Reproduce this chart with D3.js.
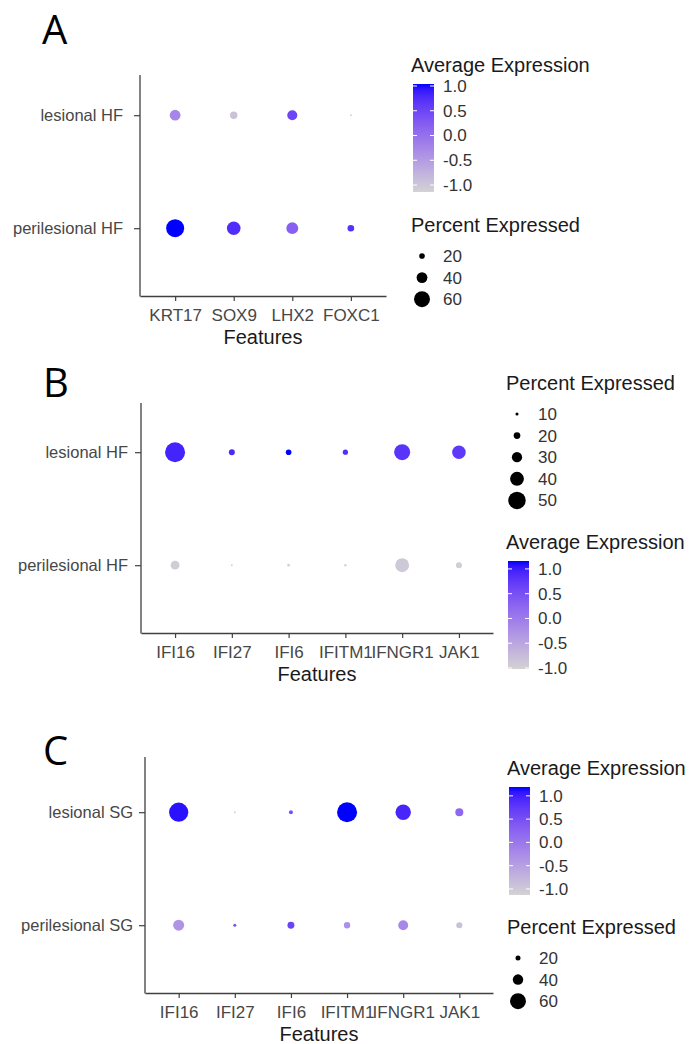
<!DOCTYPE html>
<html>
<head>
<meta charset="utf-8">
<script src="https://cdn.jsdelivr.net/npm/d3@7"></script>
<style>
	body { margin: 0; background: #fff; }
	text { font-family: "Liberation Sans", Arial, sans-serif; }
</style>
</head>
<body>
<script>
// panel A
var featuresA = ["KRT17", "SOX9", "LHX2", "FOXC1"]
var groupsA = ["lesional HF", "perilesional HF"]
var pctA_les = [40, 27, 37, 6]
var pctA_peri = [68, 51, 44, 24]
var avgA_les = [-0.25, -0.95, 0.5, -1.14]
var avgA_peri = [1.04, 0.75, 0.2, 0.7]
var sizeBreaksA = [20, 40, 60]

// panel B
var featuresB = ["IFI16", "IFI27", "IFI6", "IFITM1", "IFNGR1", "JAK1"]
var groupsB = ["lesional HF", "perilesional HF"]
var pctB_les = [57, 18, 17, 16, 46, 39]
var pctB_peri = [26, 7, 9, 8, 40, 18]
var avgB_les = [0.95, 0.9, 1.16, 0.85, 0.8, 0.75]
var avgB_peri = [-0.95, -1.0, -1.02, -1.0, -0.9, -0.95]
var sizeBreaksB = [10, 20, 30, 40, 50]

// panel C
var featuresC = ["IFI16", "IFI27", "IFI6", "IFITM1", "IFNGR1", "JAK1"]
var groupsC = ["lesional SG", "perilesional SG"]
var pctC_les = [72, 9, 16, 75, 58, 31]
var pctC_peri = [42, 13, 27, 25, 38, 24]
var avgC_les = [1.1, -1.13, 0.5, 1.19, 0.95, 0.2]
var avgC_peri = [-0.35, 0.45, 0.65, -0.3, -0.2, -0.9]
var sizeBreaksC = [20, 40, 60]

var colorBreaks = [-1.0, -0.5, 0.0, 0.5, 1.0]

var svg = d3.select("body").append("svg")
	.attr("width", 689)
	.attr("height", 1044)

var defs = svg.append("defs")

function drawPanel(p) {
	var g = svg.append("g")

	//letra del panel
	g.append("text")
		.text(p.letter)
		.attr("x", p.letterX)
		.attr("y", p.letterY)
		.style("font-family", "'Open Sans', sans-serif")
		.style("font-size", "40px")
		.attr("fill", "#000")

	var x = d3.scalePoint().domain(p.features).range([p.left, p.right]).padding(0.6)
	// el grupo de abajo primero (como ggplot)
	var y = d3.scalePoint()
		.domain(p.groups.slice().reverse())
		.range([p.bottom, p.bottom - p.rowStep * 2.2])
		.padding(0.6)

	var vals = p.pct[0].concat(p.pct[1])
	var avgs = p.avg[0].concat(p.avg[1])

	var r = d3.scaleLinear().domain(d3.extent(vals)).range([1, p.rmax])
	var color = d3.scaleLinear()
		.domain(d3.extent(avgs))
		.range(["lightgrey", "blue"])
		.interpolate(d3.interpolateLab)

	//ejes
	var xAxis = g.append("g")
		.attr("transform", "translate(0," + p.bottom + ")")
		.call(d3.axisBottom(x).tickSize(5).tickSizeOuter(0))
	xAxis.select(".domain").attr("stroke", "#404040").attr("stroke-width", 1.3)
	xAxis.selectAll(".tick line").attr("stroke", "#404040").attr("stroke-width", 1.2)
	xAxis.selectAll(".tick text")
		.attr("y", 19)
		.attr("dy", "0.35em")
		.style("font-size", "17px")
		.attr("fill", "#474747")

	var yAxis = g.append("g")
		.attr("transform", "translate(" + p.left + ",0)")
		.call(d3.axisLeft(y).tickSize(6).tickSizeOuter(0))
	yAxis.select(".domain").remove()
	yAxis.selectAll(".tick line").attr("stroke", "#404040").attr("stroke-width", 1.2)
	yAxis.selectAll(".tick text")
		.attr("x", -p.labelGap)
		.attr("dy", "0.35em")
		.style("font-size", "16.5px")
		.attr("fill", "#474747")

	g.append("line")
		.attr("x1", p.left).attr("x2", p.left)
		.attr("y1", p.top).attr("y2", p.bottom + 0.6)
		.attr("stroke", "#404040")
		.attr("stroke-width", 1.3)

	g.append("text")
		.text("Features")
		.attr("x", (p.left + p.right) / 2)
		.attr("y", p.bottom + 41)
		.attr("dy", "0.35em")
		.attr("text-anchor", "middle")
		.style("font-size", "20px")
		.attr("fill", "#1a1a1a")

	//los puntos
	p.groups.forEach(function(grp, gi) {
		g.selectAll(null)
			.data(p.features)
			.enter()
			.append("circle")
			.attr("cx", function(d) { return x(d) })
			.attr("cy", y(grp))
			.attr("r", function(d, i) { return r(p.pct[gi][i]) })
			.attr("fill", function(d, i) { return color(p.avg[gi][i]) })
	})

	//leyendas
	p.legendOrder.forEach(function(kind, k) {
		if (kind == "avg") colorLegend(g, p, color, p.legendY[k])
		else sizeLegend(g, p, r, p.legendY[k])
	})
}

function colorLegend(g, p, color, ty) {
	var lx = p.legendX
	g.append("text")
		.text("Average Expression")
		.attr("x", lx)
		.attr("y", ty)
		.attr("dy", "0.35em")
		.style("font-size", "20px")
		.attr("fill", "#1a1a1a")

	var top = ty + 19, h = 108, bw = 21, bx = lx + 2
	var dom = color.domain()
	var sc = d3.scaleLinear().domain(dom).range([top + h, top])

	var id = "grad" + p.letter
	var grad = defs.append("linearGradient")
		.attr("id", id)
		.attr("x1", 0).attr("y1", 1).attr("x2", 0).attr("y2", 0)
	d3.range(0, 1.0001, 0.05).forEach(function(t) {
		grad.append("stop")
			.attr("offset", t)
			.attr("stop-color", color(dom[0] + t * (dom[1] - dom[0])))
	})
	g.append("rect")
		.attr("x", bx).attr("y", top)
		.attr("width", bw).attr("height", h)
		.attr("fill", "url(#" + id + ")")

	colorBreaks.forEach(function(b) {
		var yy = sc(b)
		g.append("line").attr("x1", bx).attr("x2", bx + 4).attr("y1", yy).attr("y2", yy)
			.attr("stroke", "#fff").attr("stroke-width", 1)
		g.append("line").attr("x1", bx + bw - 4).attr("x2", bx + bw).attr("y1", yy).attr("y2", yy)
			.attr("stroke", "#fff").attr("stroke-width", 1)
		g.append("text")
			.text(d3.format(".1f")(b).replace("−", "-"))
			.attr("x", lx + 32)
			.attr("y", yy)
			.attr("dy", "0.35em")
			.style("font-size", "17px")
			.attr("fill", "#333")
	})
}

function sizeLegend(g, p, r, ty) {
	var lx = p.legendX
	g.append("text")
		.text("Percent Expressed")
		.attr("x", lx)
		.attr("y", ty)
		.attr("dy", "0.35em")
		.style("font-size", "20px")
		.attr("fill", "#1a1a1a")

	p.sizeBreaks.forEach(function(b, i) {
		var yy = ty + 31 + i * 21.6
		g.append("circle")
			.attr("cx", lx + 11)
			.attr("cy", yy)
			.attr("r", r(b))
			.attr("fill", "#000")
		g.append("text")
			.text(b)
			.attr("x", lx + 32)
			.attr("y", yy)
			.attr("dy", "0.35em")
			.style("font-size", "17px")
			.attr("fill", "#333")
	})
}

drawPanel({
	letter: "A", letterX: 42, letterY: 44,
	features: featuresA, groups: groupsA,
	pct: [pctA_les, pctA_peri], avg: [avgA_les, avgA_peri],
	sizeBreaks: sizeBreaksA,
	left: 140, right: 386, top: 75, bottom: 296, rowStep: 113,
	labelGap: 17, rmax: 9,
	legendX: 411, legendOrder: ["avg", "pct"], legendY: [65, 225]
})

drawPanel({
	letter: "B", letterX: 43, letterY: 397,
	features: featuresB, groups: groupsB,
	pct: [pctB_les, pctB_peri], avg: [avgB_les, avgB_peri],
	sizeBreaks: sizeBreaksB,
	left: 141, right: 493, top: 403, bottom: 633, rowStep: 113,
	labelGap: 13, rmax: 10,
	legendX: 506, legendOrder: ["pct", "avg"], legendY: [383, 542]
})

drawPanel({
	letter: "C", letterX: 43, letterY: 765,
	features: featuresC, groups: groupsC,
	pct: [pctC_les, pctC_peri], avg: [avgC_les, avgC_peri],
	sizeBreaks: sizeBreaksC,
	left: 145, right: 493, top: 757, bottom: 993, rowStep: 113,
	labelGap: 12, rmax: 10,
	legendX: 507, legendOrder: ["avg", "pct"], legendY: [768, 927]
})
</script>
</body>
</html>
